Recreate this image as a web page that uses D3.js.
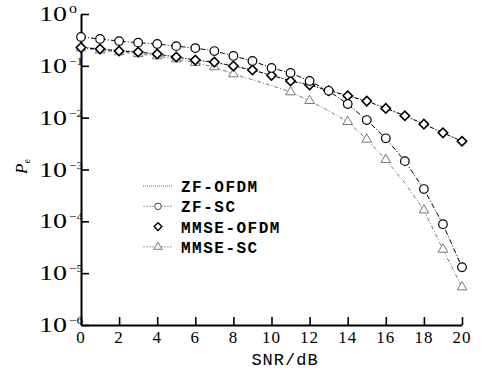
<!DOCTYPE html>
<html>
<head>
<meta charset="utf-8">
<script src="https://cdn.jsdelivr.net/npm/d3@7"></script>
<style>
  html, body { margin: 0; padding: 0; background: #fff; }
  svg { display: block; }
</style>
</head>
<body>
<div id="chart"></div>
<script>
(function() {
  'use strict';

  // data
  var snr = [0, 1, 2, 3, 4, 5, 6, 7, 8, 9, 10, 11, 12, 13, 14, 15, 16, 17, 18, 19, 20];
  var zfOfdm = [0.23, 0.215, 0.2, 0.185, 0.165, 0.15, 0.13, 0.115, 0.1, 0.082, 0.066, 0.053,
                0.043, 0.034, 0.027, 0.021, 0.0152, 0.011, 0.0076, 0.0051, 0.0035];
  var zfSc = [0.36, 0.33, 0.30, 0.28, 0.264, 0.24, 0.22, 0.193, 0.155, 0.124, 0.091, 0.073,
              0.051, 0.033, 0.0183, 0.009, 0.0040, 0.00145, 0.00042, 0.000088, 0.000013];
  var mmseOfdm = [0.225, 0.211, 0.193, 0.185, 0.169, 0.148, 0.129, 0.118, 0.099, 0.083, 0.0656, 0.051,
                  0.0426, 0.033, 0.0265, 0.0209, 0.0151, 0.0109, 0.0075, 0.0051, 0.0035];
  var mmseSc = [0.22, 0.2, 0.185, 0.17, 0.155, 0.135, 0.115, 0.095, 0.0695, 0.054, 0.0416, 0.0312,
                0.0212, 0.0135, 0.00834, 0.00381, 0.00155, 0.00055, 0.000164, 0.0000287, 0.0000054];
  // triangles are only drawn at some of the points in the original
  var mmseScMarks = [0, 1, 2, 3, 4, 5, 6, 7, 8, 11, 12, 14, 15, 16, 18, 19, 20];
  var xTicks = [0, 2, 4, 6, 8, 10, 12, 14, 16, 18, 20];
  var yExponents = [0, -1, -2, -3, -4, -5, -6];
  var legendNames = ['ZF-OFDM', 'ZF-SC', 'MMSE-OFDM', 'MMSE-SC'];

  var width = 486, height = 372;
  var margin = {left: 81, right: 24, top: 14, bottom: 47};
  var serif = '"Liberation Serif", "Times New Roman", serif';
  var mono = '"Liberation Mono", "Courier New", monospace';

  var svg = d3.select('#chart')
      .append('svg')
      .attr('width', width)
      .attr('height', height);

  var x = d3.scaleLinear()
      .domain([0, 20])
      .range([margin.left, width - margin.right]);
  var y = d3.scaleLog()
      .domain([1e-6, 1])
      .range([height - margin.bottom, margin.top]);

  // axes (ticks point inwards)
  var xAxis = svg.append('g')
      .attr('transform', 'translate(0,' + (height - margin.bottom) + ')')
      .call(d3.axisBottom(x).tickValues(xTicks).tickSizeInner(-8).tickSizeOuter(0).tickFormat(''));
  var yAxis = svg.append('g')
      .attr('transform', 'translate(' + margin.left + ',0)')
      .call(d3.axisLeft(y).tickValues(yExponents.map(function(e) { return Math.pow(10, e); }))
        .tickSizeInner(-8).tickSizeOuter(0).tickFormat(''));
  [xAxis, yAxis].forEach(function(a) {
    a.select('.domain').attr('stroke', '#000').attr('stroke-width', 2);
    a.selectAll('.tick line').attr('stroke', '#000').attr('stroke-width', 1.6);
  });

  // x tick labels
  svg.append('g').selectAll('text')
      .data(xTicks)
      .enter().append('text')
      .attr('x', function(d) { return x(d); })
      .attr('y', height - margin.bottom + 18)
      .attr('text-anchor', 'middle')
      .style('font-family', serif)
      .style('font-size', '17px')
      .style('letter-spacing', '1px')
      .text(function(d) { return d; });

  // y tick labels as 10^e
  var yl = svg.append('g').selectAll('g')
      .data(yExponents)
      .enter().append('g')
      .attr('transform', function(d) { return 'translate(0,' + y(Math.pow(10, d)) + ')'; });
  yl.append('text')
      .attr('x', 39)
      .attr('y', 7)
      .attr('textLength', 28)
      .attr('lengthAdjust', 'spacingAndGlyphs')
      .style('font-family', serif)
      .style('font-size', '20px')
      .text('10');
  yl.append('text')
      .attr('x', 69)
      .attr('y', -1)
      .attr('textLength', function(d) { return d === 0 ? 8 : 14; })
      .attr('lengthAdjust', 'spacingAndGlyphs')
      .style('font-family', serif)
      .style('font-size', '11px')
      .text(function(d) { return d === 0 ? '0' : '\u2212' + (-d); });

  // axis titles
  svg.append('text')
      .attr('x', 285)
      .attr('y', 365)
      .attr('text-anchor', 'middle')
      .style('font-family', mono)
      .style('font-size', '17px')
      .style('letter-spacing', '1px')
      .text('SNR/dB');
  var yt = svg.append('text')
      .attr('transform', 'translate(27,174) rotate(-90)')
      .style('font-family', serif)
      .style('font-size', '17px')
      .style('font-style', 'italic');
  yt.append('tspan').text('P');
  yt.append('tspan')
      .attr('dy', 3)
      .style('font-size', '10px')
      .style('font-style', 'normal')
      .text('e');

  var line = d3.line()
      .x(function(d) { return x(d[0]); })
      .y(function(d) { return y(d[1]); });

  function pairs(vals) {
    return snr.map(function(s, i) { return [s, vals[i]]; });
  }

  var tri = d3.symbol().type(d3.symbolTriangle).size(40);
  // square turned by 45 degrees gives the even diamond of the original
  var dia = d3.symbol().type(d3.symbolSquare).size(44);

  var series = [
    {name: 'MMSE-SC', vals: mmseSc, dash: '4,2,1,2', color: '#777', width: 1},
    {name: 'ZF-OFDM', vals: zfOfdm, dash: '1,1.5', color: '#444', width: 0.8},
    {name: 'MMSE-OFDM', vals: mmseOfdm, dash: '4,2,1,2', color: '#000', width: 1},
    {name: 'ZF-SC', vals: zfSc, dash: '5,2,1,2', color: '#000', width: 1}
  ];

  svg.append('g').selectAll('path')
      .data(series)
      .enter().append('path')
      .attr('d', function(d) { return line(pairs(d.vals)); })
      .attr('fill', 'none')
      .attr('stroke', function(d) { return d.color; })
      .attr('stroke-width', function(d) { return d.width; })
      .attr('stroke-dasharray', function(d) { return d.dash; });

  // markers
  svg.append('g').selectAll('path')
      .data(mmseScMarks)
      .enter().append('path')
      .attr('transform', function(i) { return 'translate(' + x(snr[i]) + ',' + y(mmseSc[i]) + ')'; })
      .attr('d', tri)
      .attr('fill', '#fff')
      .attr('stroke', '#777')
      .attr('stroke-width', 1);
  svg.append('g').selectAll('path')
      .data(pairs(mmseOfdm))
      .enter().append('path')
      .attr('transform', function(d) { return 'translate(' + x(d[0]) + ',' + y(d[1]) + ') rotate(45)'; })
      .attr('d', dia)
      .attr('fill', '#fff')
      .attr('stroke', '#000')
      .attr('stroke-width', 1.6);
  svg.append('g').selectAll('circle')
      .data(pairs(zfSc))
      .enter().append('circle')
      .attr('cx', function(d) { return x(d[0]); })
      .attr('cy', function(d) { return y(d[1]); })
      .attr('r', 4.3)
      .attr('fill', '#fff')
      .attr('stroke', '#000')
      .attr('stroke-width', 1.2);

  // legend
  var lg = svg.append('g').attr('transform', 'translate(143,186)');
  var rows = lg.selectAll('g')
      .data(legendNames)
      .enter().append('g')
      .attr('transform', function(d, i) { return 'translate(0,' + (i * 20.3) + ')'; });
  rows.filter(function(d) { return d !== 'MMSE-OFDM'; })
      .append('line')
      .attr('x1', 0).attr('x2', 29)
      .attr('stroke', function(d) { return d === 'ZF-OFDM' ? '#444' : '#888'; })
      .attr('stroke-width', 0.8)
      .attr('stroke-dasharray', function(d) { return d === 'ZF-OFDM' ? '1,1' : '2,1'; });
  rows.filter(function(d) { return d === 'ZF-SC'; })
      .append('circle')
      .attr('cx', 15).attr('r', 3.3)
      .attr('fill', '#fff').attr('stroke', '#444').attr('stroke-width', 1);
  rows.filter(function(d) { return d === 'MMSE-OFDM'; })
      .append('path')
      .attr('transform', 'translate(15,0) rotate(45)')
      .attr('d', d3.symbol().type(d3.symbolSquare).size(30))
      .attr('fill', '#fff').attr('stroke', '#000').attr('stroke-width', 1.4);
  rows.filter(function(d) { return d === 'MMSE-SC'; })
      .append('path')
      .attr('transform', 'translate(15,0)')
      .attr('d', d3.symbol().type(d3.symbolTriangle).size(30))
      .attr('fill', '#fff').attr('stroke', '#777').attr('stroke-width', 1);
  rows.append('text')
      .attr('x', 38)
      .attr('y', 6)
      .style('font-family', mono)
      .style('font-size', '16px')
      .style('font-weight', 'bold')
      .style('letter-spacing', '1.5px')
      .text(function(d) { return d; });
})();
</script>
</body>
</html>
